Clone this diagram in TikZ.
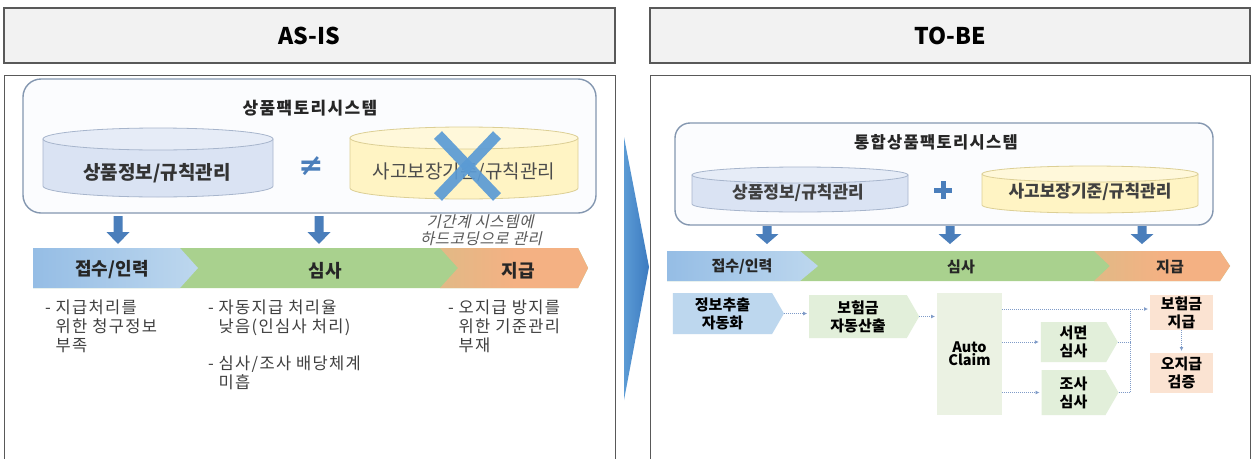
\documentclass[tikz,border=0pt]{standalone}
\usepackage{fontspec}
\setmainfont{Noto Sans CJK KR}
\newfontfamily\krit{Noto Sans CJK KR}[FakeSlant=0.22,LetterSpace=4]
\newfontfamily\krsp{Noto Sans CJK KR}[LetterSpace=8]
\newfontfamily\dvs{DejaVu Sans}
\usetikzlibrary{shapes.symbols,arrows.meta,calc}
\definecolor{hdrfill}{HTML}{F2F2F2}
\definecolor{hdrdraw}{HTML}{595959}
\definecolor{sysdraw}{HTML}{8497B0}
\definecolor{sysfill}{HTML}{FBFCFE}
\definecolor{cylblue}{HTML}{DAE3F3}
\definecolor{cylbluetop}{HTML}{E6ECF7}
\definecolor{cylbluedraw}{HTML}{A7B5CC}
\definecolor{cylyel}{HTML}{FFF4C4}
\definecolor{cylyeltop}{HTML}{FFF8DA}
\definecolor{cylyeldraw}{HTML}{DCCF95}
\definecolor{xblue}{HTML}{5B9BD5}
\definecolor{arrblue}{HTML}{4A7EBB}
\definecolor{barblueA}{HTML}{95BDE5}
\definecolor{barblueB}{HTML}{BDD7EE}
\definecolor{bargreen}{HTML}{A9D18E}
\definecolor{barorange}{HTML}{F4B183}
\definecolor{boxblue}{HTML}{BDD7EE}
\definecolor{boxgreen}{HTML}{E2EFDA}
\definecolor{autofill}{HTML}{EBF2E3}
\definecolor{boxorange}{HTML}{FBE3D2}
\definecolor{dotblue}{HTML}{7F9BC8}
\definecolor{txtgray}{HTML}{404040}
\definecolor{chevA}{HTML}{5B9BD5}
\definecolor{chevB}{HTML}{3C7AC0}
\newcommand\blkarr[4]{%
  \fill[arrblue] ({#1-4.5},{-#2}) -- ({#1+4.5},{-#2}) -- ({#1+4.5},{-#3}) -- ({#1+11.5},{-#3})
    -- ({#1},{-#4}) -- ({#1-11.5},{-#3}) -- ({#1-4.5},{-#3}) -- cycle;}
\begin{document}
\begin{tikzpicture}[x=1pt,y=1pt,
  every node/.style={inner sep=0pt,outer sep=0pt},
  hdr/.style={draw=hdrdraw,fill=hdrfill,line width=1.2pt,font=\bfseries\fontsize{23}{23}\selectfont},
  panel/.style={draw=hdrdraw,line width=1pt},
  sysbox/.style={draw=sysdraw,fill=sysfill,line width=1.4pt},
  systitle/.style={font=\krsp\bfseries\fontsize{17}{17}\selectfont,text=black!85},
  barlbl/.style={font=\bfseries\fontsize{18}{18}\selectfont,text=black!85},
  barlblsm/.style={font=\bfseries\fontsize{15}{15}\selectfont,text=black!85},
  note/.style={font=\krsp\fontsize{16.5}{19}\selectfont,text=txtgray,align=left,anchor=west},
  procbox/.style={signal,signal to=east,signal pointer angle=120,font=\bfseries\fontsize{15}{18}\selectfont,align=center},
  plainbox/.style={rectangle,font=\bfseries\fontsize{15}{18}\selectfont,align=center},
  conn/.style={draw=dotblue,densely dotted,line width=1pt,-{Latex[length=4pt,width=4pt]},shorten >=2pt},
  dotline/.style={draw=dotblue,densely dotted,line width=1pt}]
\useasboundingbox (0,0) rectangle (1252,-458);
\fill[white] (0,0) rectangle (1252,-458);

% ---------- headers and panels
\node[hdr,minimum width=611,minimum height=55] (hAS) at (309.5,-35.5) {AS-IS};
\node[hdr,minimum width=600,minimum height=55] (hTO) at (950,-35.5) {TO-BE};
\draw[panel] (4,-470) -- (4,-75) -- (615,-75) -- (615,-470);
\draw[panel] (650,-470) -- (650,-75) -- (1250,-75) -- (1250,-470);

% ---------- big chevron between panels
\shade[left color=chevA,right color=chevB] (624,-137) -- (649,-267) -- (624,-400) -- cycle;

% ================= AS-IS =================
\draw[sysbox,rounded corners=18pt] (23,-79) rectangle (596,-213);
\node[systitle] (asTitle) at (310,-108) {상품팩토리시스템};

% cylinder 1
\filldraw[fill=cylblue,draw=cylbluedraw,line width=0.8pt] (43,-139) -- (43,-186) arc[start angle=180,end angle=360,x radius=115,y radius=11] -- (273,-139) -- cycle;
\filldraw[fill=cylbluetop,draw=cylbluedraw,line width=0.8pt] (158,-139) ellipse[x radius=115,y radius=11];
\node[font=\bfseries\fontsize{19}{19}\selectfont,text=black!80] (asCylA) at (157,-173) {상품정보/규칙관리};

% cylinder 2
\filldraw[fill=cylyel,draw=cylyeldraw,line width=0.8pt] (350,-138) -- (350,-188) arc[start angle=180,end angle=360,x radius=114,y radius=11] -- (578,-138) -- cycle;
\filldraw[fill=cylyeltop,draw=cylyeldraw,line width=0.8pt] (464,-138) ellipse[x radius=114,y radius=11];
\node[font=\fontsize{19}{19}\selectfont,text=black!70] (asCylB) at (464,-172) {사고보장기준/규칙관리};

% not-equal sign
\node[font=\dvs\bfseries\fontsize{30}{30}\selectfont,text=arrblue] (neq) at (311,-166) {≠};

% big X
\draw[xblue,line width=11pt,opacity=0.92] (438,-135) -- (497,-197);
\draw[xblue,line width=11pt,opacity=0.92] (497,-135) -- (438,-197);

% italic note
\node[font=\krit\fontsize{15.5}{16}\selectfont,text=black!65] (hard1) at (480,-222) {기간계 시스템에};
\node[font=\krit\fontsize{15.5}{16}\selectfont,text=black!65] (hard2) at (481,-239) {하드코딩으로 관리};

% block arrows
\blkarr{118}{216}{232}{244}
\blkarr{319}{216}{232}{244}

% process bar
\fill[bargreen] (33,-248) -- (578,-248) -- (588,-268) -- (578,-288) -- (33,-288) -- cycle;
\shade[left color=barblueA,right color=barblueB] (33,-248) -- (180,-248) -- (198,-268) -- (180,-288) -- (33,-288) -- cycle;
\shade[left color=barorange!75!bargreen,right color=barorange,middle color=barorange] (440,-248) -- (578,-248) -- (588,-268) -- (578,-288) -- (440,-288) -- (458,-268) -- cycle;
\node[barlbl] (asS1) at (112,-270) {접수/인력};
\node[barlbl] (asS2) at (325,-271) {심사};
\node[barlbl] (asS3) at (518,-271) {지급};

% notes
\node[note] (n1) at (45,-326) {- 지급처리를\\\hphantom{- }위한 청구정보\\\hphantom{- }부족};
\node[note] (n2) at (208,-345) {- 자동지급 처리율\\\hphantom{- }낮음(인심사 처리)\\[18pt]- 심사/조사 배당체계\\\hphantom{- }미흡};
\node[note] (n3) at (448,-326) {- 오지급 방지를\\\hphantom{- }위한 기준관리\\\hphantom{- }부재};

% ================= TO-BE =================
\draw[sysbox,rounded corners=15pt] (675,-123) rectangle (1213,-225);
\node[systitle,font=\krsp\bfseries\fontsize{16.5}{17}\selectfont] (toTitle) at (936,-142) {통합상품팩토리시스템};

\filldraw[fill=cylblue,draw=cylbluedraw,line width=0.8pt] (692,-175) -- (692,-204) arc[start angle=180,end angle=360,x radius=108,y radius=8] -- (908,-175) -- cycle;
\filldraw[fill=cylbluetop,draw=cylbluedraw,line width=0.8pt] (800,-175) ellipse[x radius=108,y radius=8];
\node[font=\bfseries\fontsize{17}{17}\selectfont,text=black!75] (toCylA) at (798,-193) {상품정보/규칙관리};

\filldraw[fill=cylyel,draw=cylyeldraw,line width=0.8pt] (982,-174) -- (982,-205) arc[start angle=180,end angle=360,x radius=108,y radius=8] -- (1198,-174) -- cycle;
\filldraw[fill=cylyeltop,draw=cylyeldraw,line width=0.8pt] (1090,-174) ellipse[x radius=108,y radius=8];
\node[font=\bfseries\fontsize{17}{17}\selectfont,text=black!75] (toCylB) at (1090,-192) {사고보장기준/규칙관리};

% plus
\draw[arrblue,line width=5pt] (934,-190) -- (952,-190);
\draw[arrblue,line width=5pt] (943,-181) -- (943,-199);

\blkarr{767}{226}{234}{244}
\blkarr{950}{226}{234}{244}
\blkarr{1142}{226}{234}{244}

% bar
\fill[bargreen] (667,-251) -- (1220,-251) -- (1230,-266) -- (1220,-281) -- (667,-281) -- cycle;
\shade[left color=barblueA,right color=barblueB] (667,-251) -- (800,-251) -- (818,-266) -- (800,-281) -- (667,-281) -- cycle;
\shade[left color=barorange!75!bargreen,right color=barorange,middle color=barorange] (1094,-251) -- (1220,-251) -- (1230,-266) -- (1220,-281) -- (1094,-281) -- (1110,-266) -- cycle;
\node[barlblsm] (toS1) at (742,-267) {접수/인력};
\node[barlblsm] (toS2) at (961,-267) {심사};
\node[barlblsm] (toS3) at (1170,-267) {지급};

% process boxes
\node[procbox,fill=boxblue,minimum width=111,minimum height=41] (info) at (722.5,-313.5) {정보추출\\자동화};
\node[procbox,fill=boxgreen,minimum width=110,minimum height=43] (calc) at (858,-316.5) {보험금\\자동산출};
\node[plainbox,fill=autofill,minimum width=65,minimum height=122,font=\bfseries\fontsize{14.5}{13}\selectfont] (auto) at (969.5,-354) {Auto\\Claim};
\node[procbox,fill=boxgreen,minimum width=77,minimum height=40] (seo) at (1073.5,-342) {서면\\심사};
\node[procbox,fill=boxgreen,minimum width=77,minimum height=45] (josa) at (1073.5,-392.5) {조사\\심사};
\node[plainbox,fill=boxorange,minimum width=63,minimum height=35] (bohum) at (1181.5,-312.5) {보험금\\지급};
\node[plainbox,fill=boxorange,minimum width=63,minimum height=40] (oji) at (1181.5,-373) {오지급\\검증};

% connectors
\coordinate (jx) at (1130,-309);
\coordinate (atop) at ($(auto.north east)+(0,-16)$);
\draw[conn] (info.east) -- (info.east -| calc.west);
\draw[conn] (calc.east) -- (calc.east -| auto.west);
\draw[conn] (auto.east |- seo.west) -- (seo.west);
\draw[conn] (auto.east |- josa.west) -- (josa.west);
\draw[dotline] (atop) -- (jx);
\draw[conn] (jx) -- (jx -| bohum.west);
\draw[dotline] (seo.east) -- (seo.east -| jx);
\draw[dotline] (josa.east) -- (josa.east -| jx);
\draw[dotline] (jx) -- (jx |- josa.east);
\draw[conn] (bohum.south) -- (oji.north);
\end{tikzpicture}
\end{document}
